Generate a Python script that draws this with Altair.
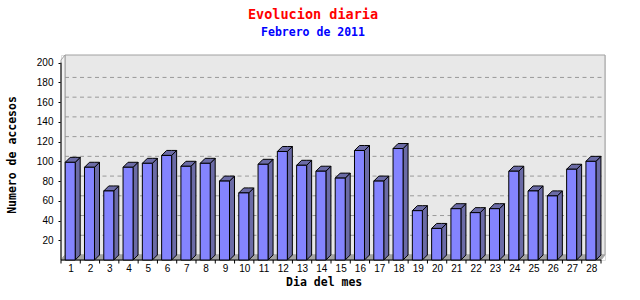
import altair as alt
import pandas as pd

# ---- data ----
days = list(range(1, 29))
visits = [99, 94, 70, 94, 98, 106, 95, 98, 80, 68, 97, 110, 96, 90,
          83, 111, 80, 113, 50, 32, 52, 48, 52, 90, 70, 65, 92, 100]
y_ticks = [20, 40, 60, 80, 100, 120, 140, 160, 180, 200]
title_text = "Evolucion diaria"
subtitle_text = "Febrero de 2011"
x_title = "Dia del mes"
y_title = "Numero de accesos"

# ---- geometry (plot area in px, converted to data units for the 3D depth) ----
W, H = 544, 205
PX_X = 19.286           # px per day
PX_Y = 0.9865           # px per visit
XMAX = W / PX_X
YMAX = H / PX_Y
NDAYS = len(days)
WDX, WDY = 4 / PX_X, 5 / PX_Y      # wall depth
BDX, BDY = 5 / PX_X, 5 / PX_Y      # bar depth
BAR_OFF = 4.2 / PX_X
BAR_W = 10 / PX_X

xs = alt.Scale(domain=[0, XMAX], nice=False, zero=False)
ys = alt.Scale(domain=[0, YMAX], nice=False, zero=False)

XAXIS = alt.Axis(
    values=[d - 0.5 for d in days], labelExpr="datum.value + 0.5",
    ticks=False, domain=False, grid=False, labelOverlap=False,
    labelPadding=3, labelFont="Liberation Sans", labelFontSize=10,
    labelColor="black", title=x_title, titleFont="DejaVu Sans Mono",
    titleFontSize=11.5, titleFontWeight="bold", titleColor="black",
    titleX=262.7, titleY=25.7, titleBaseline="alphabetic", titleAlign="center")
YAXIS = alt.Axis(
    values=y_ticks, grid=False, domain=False, tickSize=3, tickColor="black",
    labelPadding=5, labelFont="Liberation Sans", labelFontSize=10,
    labelColor="black", labelOverlap=False, title=y_title,
    titleFont="DejaVu Sans Mono", titleFontSize=11.5, titleFontWeight="bold",
    titleColor="black", titleX=-48.3, titleY=99.5, titleAngle=270,
    titleAlign="center", titleBaseline="middle")

FRONT = "#8484ff"
SIDE = "#6b6ba6"

# front faces
front = pd.DataFrame({
    "day": days,
    "xl": [d - 1 + BAR_OFF for d in days],
    "xr": [d - 1 + BAR_OFF + BAR_W for d in days],
    "v": visits,
    "zero": [0] * NDAYS,
})

# side faces and top faces as parallelogram areas
side_rows, top_rows = [], []
for d, v in zip(days, visits):
    xl = d - 1 + BAR_OFF
    xr = xl + BAR_W
    side_rows += [
        {"id": d, "x": xr, "lo": 0, "hi": v},
        {"id": d, "x": xr + BDX, "lo": BDY, "hi": v + BDY},
    ]
    top_rows += [
        {"id": d, "x": xl, "lo": v, "hi": v},
        {"id": d, "x": xl + BDX, "lo": v, "hi": v + BDY},
        {"id": d, "x": xr, "lo": v, "hi": v + BDY},
        {"id": d, "x": xr + BDX, "lo": v + BDY, "hi": v + BDY},
    ]
sides = pd.DataFrame(side_rows)
tops = pd.DataFrame(top_rows)

# walls
back = pd.DataFrame({"x0": [WDX], "x1": [NDAYS + WDX], "y0": [WDY], "y1": [YMAX]})
left_wall = pd.DataFrame({"id": [0, 0], "x": [0, WDX], "lo": [0, WDY], "hi": [YMAX - WDY, YMAX]})
floor = pd.DataFrame({"id": [0] * 4, "x": [0, WDX, NDAYS, NDAYS + WDX],
                      "lo": [0, 0, 0, WDY], "hi": [0, WDY, WDY, WDY]})
grid = pd.DataFrame({"g": [t + WDY for t in y_ticks[:-1]],
                     "x0": [WDX] * (len(y_ticks) - 1),
                     "x1": [NDAYS + WDX] * (len(y_ticks) - 1)})
xticks = pd.DataFrame({"t": list(range(0, NDAYS + 1))})
xdom = pd.DataFrame({"x0": [0], "x1": [NDAYS], "y": [0]})
ydom = pd.DataFrame({"x": [0], "y0": [0], "y1": [200]})


def X(f):
    return alt.X(f, scale=xs, axis=XAXIS)


def Y(f):
    return alt.Y(f, scale=ys, axis=YAXIS)


def area_layer(df, fill, stroke, sw=1):
    return alt.Chart(df).mark_area(orient="vertical", fill=fill, stroke=stroke,
                                   strokeWidth=sw, interpolate="linear").encode(
        x=X("x:Q"), y=Y("lo:Q"), y2="hi:Q", detail="id:N")


back_l = alt.Chart(back).mark_rect(fill="#e8e8e8", stroke="#a0a0a0", strokeWidth=1).encode(
    x=X("x0:Q"), x2="x1:Q", y=Y("y0:Q"), y2="y1:Q")
left_l = area_layer(left_wall, "#f2f2f2", "#a0a0a0")
floor_l = area_layer(floor, "#a4a4a4", "#a4a4a4")
grid_l = alt.Chart(grid).mark_rule(color="#999999", strokeDash=[4, 3.5], strokeWidth=1).encode(
    x=X("x0:Q"), x2="x1:Q", y=Y("g:Q"))
xdom_l = alt.Chart(xdom).mark_rule(color="black").encode(
    x=X("x0:Q"), x2="x1:Q", y=Y("y:Q"))
ydom_l = alt.Chart(ydom).mark_rule(color="black").encode(
    x=X("x:Q"), y=Y("y0:Q"), y2="y1:Q")
xt_l = alt.Chart(xticks).mark_rule(color="black").encode(
    x=X("t:Q"), y=alt.value(H), y2=alt.value(H + 3.5))
side_l = area_layer(sides, SIDE, "black")
top_l = area_layer(tops, SIDE, "black")
front_l = alt.Chart(front).mark_rect(fill=FRONT, stroke="black", strokeWidth=1).encode(
    x=X("xl:Q"), x2="xr:Q", y=Y("zero:Q"), y2="v:Q")

chart = alt.layer(
    back_l, left_l, floor_l, grid_l, xdom_l, ydom_l, xt_l, side_l, top_l, front_l
).properties(
    width=W, height=H,
    title=alt.Title(
        title_text, subtitle=subtitle_text, color="red", subtitleColor="blue",
        font="DejaVu Sans Mono", fontSize=13.5, fontWeight="bold",
        subtitleFont="DejaVu Sans Mono", subtitleFontSize=11.5,
        subtitleFontWeight="bold", anchor="middle", dx=-20, offset=14.6,
        subtitlePadding=5),
    autosize=alt.AutoSizeParams(type="none"),
    padding={"left": 61, "top": 55, "right": 35, "bottom": 40},
).configure_view(stroke=None).configure(background="white")

chart.save("out.html", embed_options={"renderer": "svg", "actions": False})
